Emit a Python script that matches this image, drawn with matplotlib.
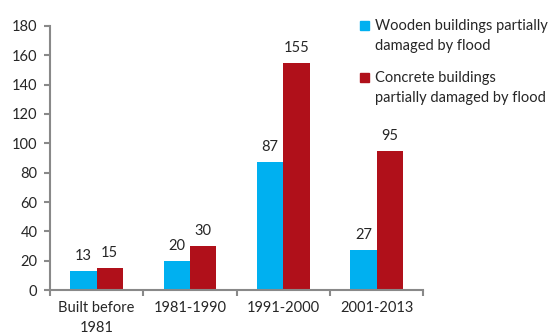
import matplotlib
matplotlib.use("Agg")
import matplotlib.pyplot as plt
from matplotlib.patches import Rectangle
import numpy as np

plt.rcParams['font.family'] = ['Lato', 'DejaVu Sans']

categories = ["Built before\n1981", "1981-1990", "1991-2000", "2001-2013"]
wooden = [13, 20, 87, 27]
concrete = [15, 30, 155, 95]
labels = [["Wooden buildings partially", "damaged by flood"],
          ["Concrete buildings", "partially damaged by flood"]]
blue = "#00B0F0"
red = "#B0101A"
grey = "#898989"
txt = "#262626"
fs = 10.5

fig = plt.figure(figsize=(5.48, 3.34), dpi=100)
ax = fig.add_axes([0.0912, 0.1317, 0.681, 0.7905])

x = np.arange(len(categories))
w = 0.282
b1 = ax.bar(x - w / 2, wooden, w, color=blue)
b2 = ax.bar(x + w / 2, concrete, w, color=red)
for bars, vals in ((b1, wooden), (b2, concrete)):
    for r, v in zip(bars, vals):
        ax.annotate(str(v), (r.get_x() + r.get_width() / 2, v),
                    xytext=(0, 8), textcoords='offset points',
                    ha='center', va='baseline', fontsize=fs, color=txt)

ax.set_xlim(-0.5, 3.5)
ax.set_ylim(0, 180)
ax.set_yticks(range(0, 181, 20))
ax.set_xticks(x)
ax.set_xticklabels(categories, fontsize=fs, color=txt, linespacing=1.5)
ax.set_xticks(np.arange(-0.5, 4, 1), minor=True)
ax.tick_params(axis='x', which='major', length=0, pad=8)
ax.tick_params(axis='x', which='minor', length=4, width=1.5, color=grey)
ax.tick_params(axis='y', length=4, width=1.5, color=grey, labelsize=fs,
               labelcolor=txt, pad=5)
for s in ('top', 'right'):
    ax.spines[s].set_visible(False)
for s in ('left', 'bottom'):
    ax.spines[s].set_color(grey)
    ax.spines[s].set_linewidth(1.5)

# legend, square aligned with first line of each entry
for colour, lines, base in ((blue, labels[0], 0.910), (red, labels[1], 0.754)):
    fig.patches.append(Rectangle((0.657, base), 0.0164, 0.027, color=colour,
                                 transform=fig.transFigure, figure=fig))
    for i, line in enumerate(lines):
        fig.text(0.685, base - i * 0.06, line, fontsize=fs, color=txt,
                 va='baseline', ha='left')

fig.savefig("out.png", dpi=100)
